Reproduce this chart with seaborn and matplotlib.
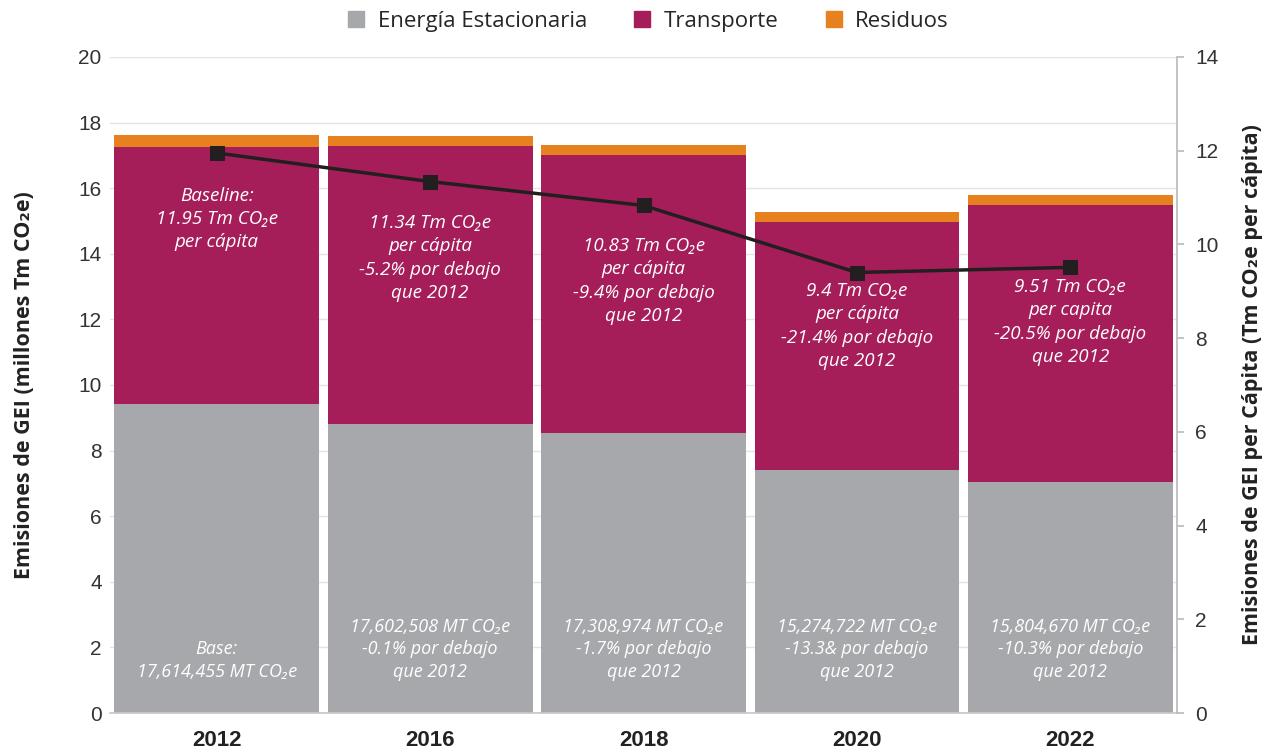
import matplotlib
matplotlib.use("Agg")
import matplotlib.pyplot as plt
import seaborn as sns
import numpy as np
import pandas as pd
from matplotlib.lines import Line2D

years = ["2012", "2016", "2018", "2020", "2022"]
energia = [9.42, 8.81, 8.54, 7.41, 7.04]
transporte = [7.84, 8.48, 8.47, 7.56, 8.45]
residuos = [0.35, 0.31, 0.30, 0.30, 0.31]
per_capita = [11.95, 11.34, 10.83, 9.40, 9.51]
series_names = ["Energía Estacionaria", "Transporte", "Residuos"]

top_texts = [
    "Baseline:\n11.95 Tm CO₂e\nper cápita",
    "11.34 Tm CO₂e\nper cápita\n-5.2% por debajo\nque 2012",
    "10.83 Tm CO₂e\nper cápita\n-9.4% por debajo\nque 2012",
    "9.4 Tm CO₂e\nper cápita\n-21.4% por debajo\nque 2012",
    "9.51 Tm CO₂e\nper capita\n-20.5% por debajo\nque 2012",
]
top_text_y = [16.04, 15.21, 14.51, 13.14, 13.26]
bottom_texts = [
    "Base:\n17,614,455 MT CO₂e",
    "17,602,508 MT CO₂e\n-0.1% por debajo\nque 2012",
    "17,308,974 MT CO₂e\n-1.7% por debajo\nque 2012",
    "15,274,722 MT CO₂e\n-13.3& por debajo\nque 2012",
    "15,804,670 MT CO₂e\n-10.3% por debajo\nque 2012",
]

colors = ["#A7A8AB", "#A51E5A", "#E7811F"]

sns.set_theme(style="white")
plt.rcParams["font.family"] = ["Open Sans", "DejaVu Sans"]

df = pd.DataFrame({"year": years, "energia": energia,
                   "transporte": transporte, "residuos": residuos})

fig = plt.figure(figsize=(12.71, 7.55), dpi=100)
ax = fig.add_axes([0.0866, 0.0556, 0.8395, 0.869])

bottom1 = np.array(energia)
bottom2 = bottom1 + np.array(transporte)
sns.barplot(data=df, x="year", y="energia", color=colors[0], width=0.96,
            saturation=1, ax=ax, linewidth=0, zorder=2)
sns.barplot(data=df, x="year", y="transporte", color=colors[1], width=0.96,
            saturation=1, ax=ax, bottom=bottom1, linewidth=0, zorder=2)
sns.barplot(data=df, x="year", y="residuos", color=colors[2], width=0.96,
            saturation=1, ax=ax, bottom=bottom2, linewidth=0, zorder=2)

ax.set_ylim(0, 20)
ax.set_xlim(-0.5, 4.5)
ax.set_yticks(range(0, 21, 2))
ax.yaxis.grid(True, color="#E3E3E3", linewidth=1)
ax.set_axisbelow(True)
for s in ["top", "left", "right"]:
    ax.spines[s].set_visible(False)
ax.spines["bottom"].set_color("#C8C8C8")
ax.tick_params(axis="y", labelsize=15, pad=6, length=0)
for lab in ax.get_yticklabels():
    lab.set_fontfamily("Liberation Sans")
    lab.set_color("#333333")
ax.tick_params(axis="x", labelsize=16, pad=12, length=0)
for lab in ax.get_xticklabels():
    lab.set_fontweight("bold")
    lab.set_fontfamily("Liberation Sans")
    lab.set_color("#222222")
ax.set_xlabel("")
ax.set_ylabel("Emisiones de GEI (millones Tm CO₂e)", fontsize=15.5,
              fontweight="bold", color="#222222", labelpad=31)

ax2 = ax.twinx()
sns.lineplot(x=np.arange(len(years)), y=per_capita, ax=ax2, color="#231F20",
             linewidth=2.5, marker="s", markersize=10, markeredgecolor="#231F20",
             zorder=5)
ax2.set_ylim(0, 14)
ax2.set_yticks(range(0, 15, 2))
for s in ["top", "left", "bottom"]:
    ax2.spines[s].set_visible(False)
ax2.spines["right"].set_color("#BBBBBB")
ax2.tick_params(axis="y", labelsize=15, length=5, color="#BBBBBB", pad=8,
                direction="out", right=True)
for lab in ax2.get_yticklabels():
    lab.set_fontfamily("Liberation Sans")
    lab.set_color("#333333")
ax2.set_ylabel("Emisiones de GEI per Cápita (Tm CO₂e per cápita)", fontsize=15.5,
               fontweight="bold", color="#222222", labelpad=17)

for i in range(len(years)):
    ax.text(i, top_text_y[i], top_texts[i], ha="center", va="top", color="white",
            fontsize=13.5, style="italic", linespacing=1.38, zorder=6)
    ax.text(i, 0.98, bottom_texts[i], ha="center", va="bottom", color="white",
            fontsize=13, style="italic", linespacing=1.32, zorder=6)

handles = [Line2D([0], [0], marker="s", linestyle="", markersize=11,
                  markerfacecolor=c, markeredgecolor=c) for c in colors]
fig.legend(handles, series_names, loc="upper center", ncol=3, frameon=False,
           bbox_to_anchor=(0.509, 1.012), fontsize=16, handletextpad=0.45,
           columnspacing=2.0, handlelength=1.0)

fig.savefig("out.png", dpi=100)
